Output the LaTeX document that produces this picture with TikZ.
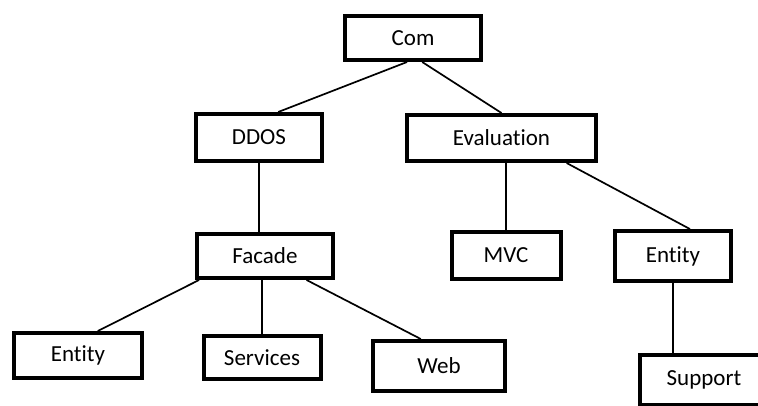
\documentclass[tikz,border=0pt]{standalone}
\usepackage{fontspec}
\setmainfont[Ligatures=NoCommon]{Carlito}
\tikzset{
  pkg/.style={draw=black, line width=4pt, rectangle, inner sep=0pt,
    font=\fontsize{23}{26}\selectfont},
  link/.style={draw=black, line width=1.7pt}
}
\begin{document}
\begin{tikzpicture}[x=1pt,y=-1pt]
    \useasboundingbox (0,0) rectangle (758,405);
    \clip (0,0) rectangle (758,405);
    % top level
    \node[pkg, minimum width=136pt, minimum height=44pt] (com) at (413,38) {Com};
    % second level
    \node[pkg, minimum width=126pt, minimum height=47pt] (ddos) at (259,137.5) {DDOS};
    \node[pkg, minimum width=189pt, minimum height=46pt] (evaluation) at (501.5,138) {Evaluation};
    % third level
    \node[pkg, minimum width=136pt, minimum height=44pt] (facade) at (265,256) {Facade};
    \node[pkg, minimum width=109pt, minimum height=47pt] (mvc) at (506,255.5) {MVC};
    \node[pkg, minimum width=116pt, minimum height=50pt] (entityr) at (673,256) {Entity};
    % bottom level
    \node[pkg, minimum width=128pt, minimum height=45pt] (entityl) at (78,355.5) {Entity};
    \node[pkg, minimum width=117pt, minimum height=43pt] (services) at (262,357.5) {Services};
    \node[pkg, minimum width=132pt, minimum height=50pt] (web) at (439,366) {Web};
    \node[pkg, minimum width=128pt, minimum height=50pt] (support) at (704,380) {Support};
    % links
    \draw[link] (com.256) -- (ddos.53);
    \draw[link] (com.291) -- (evaluation.north);
    \draw[link] (ddos.south) -- (ddos.south |- facade.north);
    \draw[link] (evaluation.south -| mvc.north) -- (mvc.north);
    \draw[link] (evaluation.339) -- (entityr.58);
    \draw[link] (facade.200) -- (entityl.51);
    \draw[link] (services.north |- facade.south) -- (services.north);
    \draw[link] (facade.330) -- (web.124);
    \draw[link] (entityr.south) -- (entityr.south |- support.north);
\end{tikzpicture}
\end{document}
